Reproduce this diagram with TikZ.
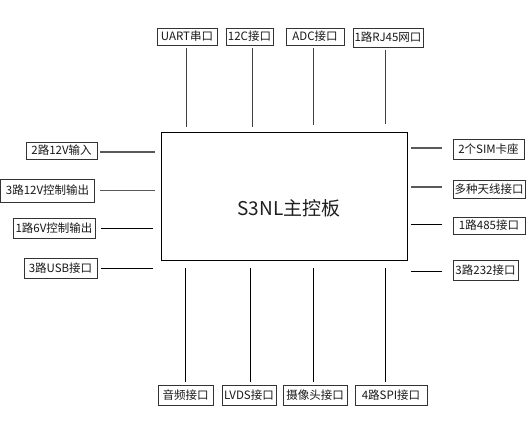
\documentclass[tikz,border=0pt]{standalone}
\usepackage{fontspec}
\setmainfont{Noto Sans CJK SC}
\begin{document}
\begin{tikzpicture}[x=1pt,y=-1pt,
  lbl/.style={draw=black!80,line width=0.8pt,inner sep=0pt,text=black!90,font=\fontsize{11.5}{12}\selectfont},
  conn/.style={line width=0.8pt,draw=black},
  connG/.style={line width=1.2pt,draw=black!65},
  conntop/.style={line width=0.8pt,draw=black!75}]
\useasboundingbox (0,0) rectangle (526,441);
\fill[white] (0,0) rectangle (526,441);
% main board
\node[draw=black,line width=0.9pt,minimum width=246pt,minimum height=128pt,inner sep=0pt] (main) at (284,196) {};
\node[font=\fontsize{19}{20}\selectfont,text=black!88] (title) at (289,208) {S3NL主控板};
% top
\node[lbl,minimum width=60pt,minimum height=17pt] (uart) at (187,36.5) {UART串口};
\node[lbl,minimum width=47pt,minimum height=17pt] (iic) at (249.5,36.5) {12C接口};
\node[lbl,minimum width=58pt,minimum height=17pt] (adc) at (315,36.5) {ADC接口};
\node[lbl,minimum width=70pt,minimum height=19pt] (rj) at (388,37.5) {1路RJ45网口};
% left
\node[lbl,minimum width=71pt,minimum height=17pt] (l1) at (61.5,150.5) {2路12V输入};
\node[lbl,minimum width=94pt,minimum height=23pt] (l2) at (47.5,190.5) {3路12V控制输出};
\node[lbl,minimum width=82pt,minimum height=20pt] (l3) at (54,228) {1路6V控制输出};
\node[lbl,minimum width=73pt,minimum height=20pt] (l4) at (60.5,268) {3路USB接口};
% right
\node[lbl,minimum width=71pt,minimum height=20pt] (r1) at (488.5,149) {2个SIM卡座};
\node[lbl,minimum width=72pt,minimum height=18pt] (r2) at (489,189) {多种天线接口};
\node[lbl,minimum width=72pt,minimum height=17pt] (r3) at (489,225.5) {1路485接口};
\node[lbl,minimum width=65pt,minimum height=20pt] (r4) at (485.5,270) {3路232接口};
% bottom
\node[lbl,minimum width=55pt,minimum height=20pt] (b1) at (185.5,395) {音频接口};
\node[lbl,minimum width=54pt,minimum height=20pt] (b2) at (249,395) {LVDS接口};
\node[lbl,minimum width=64pt,minimum height=20pt] (b3) at (315,395) {摄像头接口};
\node[lbl,minimum width=72pt,minimum height=20pt] (b4) at (391,395) {4路SPI接口};
% top connectors
\draw[conntop,shorten <=3pt,shorten >=5pt] ([xshift=-1pt]uart.south) -- ([xshift=-1pt]uart.south |- main.north);
\draw[conntop,shorten <=3pt,shorten >=5pt] ([xshift=2.5pt]iic.south) -- ([xshift=2.5pt]iic.south |- main.north);
\draw[conntop,shorten <=3pt,shorten >=7pt] ([xshift=-2pt]adc.south) -- ([xshift=-2pt]adc.south |- main.north);
\draw[conntop,shorten <=3pt,shorten >=8pt] ([xshift=-3pt]rj.south) -- ([xshift=-3pt]rj.south |- main.north);
% left connectors
\draw[connG,shorten <=3pt,shorten >=6pt] ([yshift=-1.5pt]l1.east) -- ([yshift=-1.5pt]l1.east -| main.west);
\draw[connG,shorten <=5pt,shorten >=6pt] (l2.east) -- (l2.east -| main.west);
\draw[conn,shorten <=6pt,shorten >=8pt] (l3.east) -- (l3.east -| main.west);
\draw[conn,shorten <=4pt,shorten >=8pt] (l4.east) -- (l4.east -| main.west);
% right connectors
\draw[connG,shorten <=4pt,shorten >=11pt] ([yshift=1pt]r1.west -| main.east) -- ([yshift=1pt]r1.west);
\draw[connG,shorten <=4pt,shorten >=11pt] ([yshift=2pt]r2.west -| main.east) -- ([yshift=2pt]r2.west);
\draw[conn,shorten <=4pt,shorten >=11pt] ([yshift=1.5pt]r3.west -| main.east) -- ([yshift=1.5pt]r3.west);
\draw[conn,shorten <=4pt,shorten >=11pt] ([yshift=-1pt]r4.west -| main.east) -- ([yshift=-1pt]r4.west);
% bottom connectors
\draw[conn,shorten <=8pt,shorten >=3pt] ([xshift=-0.5pt]b1.north |- main.south) -- ([xshift=-0.5pt]b1.north);
\draw[conn,shorten <=8pt,shorten >=3pt] ([xshift=1pt]b2.north |- main.south) -- ([xshift=1pt]b2.north);
\draw[conn,shorten <=8pt,shorten >=3pt] ([xshift=-2pt]b3.north |- main.south) -- ([xshift=-2pt]b3.north);
\draw[conn,shorten <=8pt,shorten >=3pt] ([xshift=-6pt]b4.north |- main.south) -- ([xshift=-6pt]b4.north);
\end{tikzpicture}
\end{document}
